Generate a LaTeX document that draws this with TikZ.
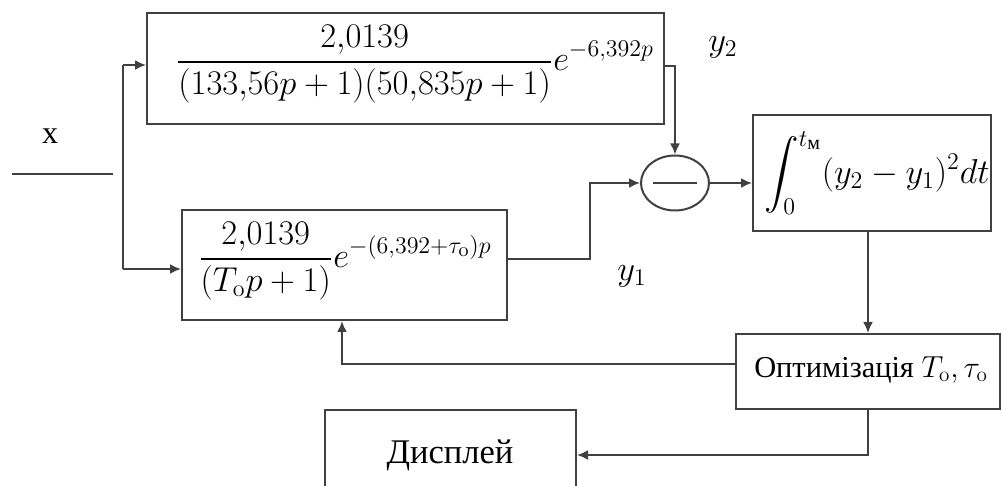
\documentclass[tikz,border=0pt]{standalone}
\usepackage[no-math]{fontspec}
\setmainfont{Liberation Serif}
\usepackage{amsmath}
\usetikzlibrary{arrows.meta,shapes.geometric,calc}
\begin{document}
\begin{tikzpicture}[x=0.5pt,y=-0.5pt,
  ln/.style={draw=black!75, line width=1pt},
  arr/.style={ln,-{Latex[length=5.5pt,width=5pt]}},
  blk/.style={ln, rectangle, inner sep=0pt},
  txt/.style={inner sep=0pt, font=\fontsize{17.28}{20}\selectfont},
  stxt/.style={inner sep=0pt, font=\fontsize{16}{19}\selectfont}]
\clip (0,0) rectangle (1003,486);
% blocks
\node[blk, minimum width=258.5pt, minimum height=55.5pt] (T) at (405.5,68.5) {};
\node[blk, minimum width=162.5pt, minimum height=55pt] (B) at (344.5,265) {};
\node[blk, minimum width=119pt, minimum height=58pt] (I) at (872,173) {};
\node[blk, minimum width=132pt, minimum height=37.5pt] (O) at (868,371.5) {};
\node[blk, minimum width=125.5pt, minimum height=45pt] (D) at (450.5,455) {};
\node[ln, ellipse, inner sep=0pt, minimum width=34pt, minimum height=27.5pt] (S) at (675,183) {};
% texts
\node[txt] (Tt) at (415,64) {$\displaystyle\frac{2{,}0139}{(133{,}56p+1)(50{,}835p+1)}e^{-6{,}392p}$};
\node[txt] (Bt) at (345,261) {$\displaystyle\frac{2{,}0139}{(T_{\mathrm{o}}p+1)}e^{-(6{,}392+\tau_{\mathrm{o}})p}$};
\node[txt] (It) at (877,173) {$\displaystyle\int_0^{t_{\text{м}}}(y_2-y_1)^2dt$};
\node[txt] (Ot) at (871,370) {\scalebox{0.88}{Оптимізація $T_{\mathrm{o}}, \tau_{\mathrm{o}}$}};
\node[txt] (Dt) at (450,455) {Дисплей};
\node[stxt] (xl) at (50,136) {x};
\node[txt] (y2l) at (723,47) {$y_2$};
\node[txt] (y1l) at (632,276) {$y_1$};
% minus sign in comparator
\draw[ln] ($(S.center)+(-22,0)$) -- ($(S.center)+(22,0)$);
% input
\coordinate (in0) at (12,174);
\coordinate (in1) at (113,174);
\draw[ln] (in0) -- (in1);
\coordinate (s1) at (123,65);
\coordinate (s2) at (123,269);
\draw[ln] (s1) -- (s2);
\draw[arr] (s1) -- (s1 -| T.west);
\draw[arr] (s2) -- (s2 -| B.west);
% outputs to comparator
\draw[arr] ([yshift=1.25pt]T.east) -| (S.north);
\coordinate (bj) at (590,183);
\draw[arr] ([yshift=3pt]B.east) -| (bj) -- (S.west);
\draw[arr] (S.east) -- (S.east -| I.west);
% integral to optimisation
\draw[arr] (O.north |- I.south) -- (O.north);
% feedback
\draw[arr] ([yshift=3.75pt]O.west) -| ([xshift=-1.25pt]B.south);
% display
\draw[arr] (O.south) |- (D.east);
\end{tikzpicture}
\end{document}
